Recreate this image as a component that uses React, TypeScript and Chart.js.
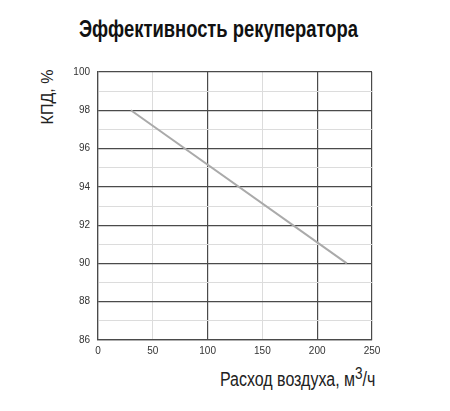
import { useEffect, useRef } from 'react';
import { Chart, registerables } from 'chart.js';

Chart.register(...registerables);

// air flow, m3/h
const airFlow = [30, 227];
// efficiency, %
const efficiency = [98, 90];

const xTicks = [0, 50, 100, 150, 200, 250];
const yMin = 86;
const yMax = 100;

const DARK = '#4a4a4a';
const LIGHT = '#dcdcdc';

export default function App() {
  const chartRef = useRef<HTMLCanvasElement>(null);
  const chartInstance = useRef<Chart | null>(null);

  useEffect(() => {
    if (!chartRef.current) return;
    const ctx = chartRef.current.getContext('2d');
    if (!ctx) return;
    if (chartInstance.current) chartInstance.current.destroy();

    chartInstance.current = new Chart(ctx, {
      type: 'line',
      data: {
        datasets: [{
          label: 'КПД',
          data: airFlow.map((x, i) => ({ x, y: efficiency[i] })),
          borderColor: '#aaaaaa',
          borderWidth: 2,
          pointRadius: 0,
          tension: 0,
        }]
      },
      options: {
        responsive: true,
        maintainAspectRatio: false,
        animation: false,
        layout: { padding: { top: 72, right: 78, left: 0, bottom: 0 } },
        plugins: {
          legend: { display: false },
          tooltip: { enabled: false },
        },
        scales: {
          x: {
            type: 'linear',
            min: xTicks[0],
            max: xTicks[xTicks.length - 1],
            afterFit: (scale) => { scale.height = 71; },
            afterBuildTicks: (scale) => { scale.ticks = xTicks.map((v) => ({ value: v })); },
            border: { display: true, color: DARK, width: 1.2 },
            grid: {
              drawTicks: false,
              color: (c) => {
                const v = c.tick ? c.tick.value : 0;
                return v % 100 === 0 || v === 250 ? DARK : LIGHT;
              },
              lineWidth: (c) => {
                const v = c.tick ? c.tick.value : 0;
                return v % 100 === 0 || v === 250 ? 1.2 : 1;
              },
            },
            ticks: {
              padding: 5,
              color: '#333',
              font: { family: '"Liberation Sans", Arial, sans-serif', size: 10 },
              maxRotation: 0,
            },
          },
          y: {
            min: yMin,
            max: yMax,
            afterFit: (scale) => { scale.width = 98; },
            border: { display: true, color: DARK, width: 1.2 },
            grid: {
              drawTicks: false,
              color: (c) => (c.tick && c.tick.value % 2 === 0 ? DARK : LIGHT),
              lineWidth: (c) => (c.tick && c.tick.value % 2 === 0 ? 1.2 : 1),
            },
            ticks: {
              stepSize: 1,
              padding: 8,
              color: '#333',
              font: { family: '"Liberation Sans", Arial, sans-serif', size: 10 },
              callback: (v) => (Number(v) % 2 === 0 ? String(v) : ''),
            },
          },
        },
      },
    });

    return () => {
      if (chartInstance.current) {
        chartInstance.current.destroy();
        chartInstance.current = null;
      }
    };
  }, []);

  return (
    <div style={{ position: 'absolute', left: 0, top: 0, width: 450, height: 411, background: '#fff' }}>
      <div style={{ position: 'absolute', left: 0, top: 16, width: 437, textAlign: 'center' }}>
        <span
          style={{
            display: 'inline-block', transform: 'scaleX(0.8)', transformOrigin: 'center',
            fontFamily: '"Liberation Sans", Arial, sans-serif', whiteSpace: 'nowrap',
            fontWeight: 'bold', fontSize: 23, lineHeight: '26px', color: '#111',
          }}
        >
          Эффективность рекуператора
        </span>
      </div>
      <div
        style={{
          position: 'absolute', left: 48, top: 97, whiteSpace: 'nowrap',
          transform: 'translate(-50%, -50%) rotate(-90deg)',
          fontFamily: '"Liberation Sans", Arial, sans-serif', fontSize: 16, lineHeight: '18px', color: '#222',
        }}
      >
        КПД, %
      </div>
      <div
        style={{
          position: 'absolute', right: 75, top: 367, whiteSpace: 'nowrap',
          transform: 'scaleX(0.8)', transformOrigin: 'right',
          fontFamily: '"Liberation Sans", Arial, sans-serif',
          fontSize: 20, lineHeight: '24px', color: '#222',
        }}
      >
        Расход воздуха, м<sup style={{ fontSize: 17, verticalAlign: 'top', position: 'relative', top: -5 }}>3</sup>/ч
      </div>
      <canvas ref={chartRef} style={{ position: 'absolute', left: 0, top: 0, width: 450, height: 411 }} />
    </div>
  );
}
